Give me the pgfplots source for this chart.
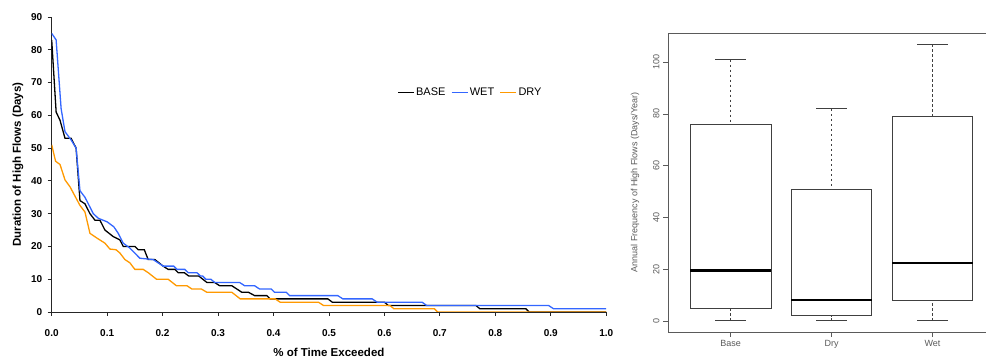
\documentclass[border=0pt]{standalone}
\usepackage{pgfplots}
\pgfplotsset{compat=1.18}
\usepgfplotslibrary{statistics}
\usepackage{fontspec}
\setmainfont{Liberation Sans}
\definecolor{wetblue}{RGB}{51,102,255}
\definecolor{dryorange}{RGB}{255,153,0}
\definecolor{rgray}{RGB}{90,90,90}
\begin{document}
\begin{tikzpicture}
\useasboundingbox (0pt,0pt) rectangle (986pt,361pt);
% ---------------- left: duration curves ----------------
\begin{axis}[
  at={(51.7pt,49pt)}, anchor=south west, scale only axis,
  width=554.5pt, height=295pt,
  xmin=0, xmax=1, ymin=0, ymax=90,
  axis lines*=left,
  axis line style={black!85, line width=0.9pt},
  xtick={0,0.1,0.2,0.3,0.4,0.5,0.6,0.7,0.8,0.9,1.0},
  ytick={0,10,20,30,40,50,60,70,80,90},
  /pgf/number format/assume math mode=true,
  tick label style={font=\bfseries\fontsize{10}{12}\selectfont, black},
  xticklabel style={yshift=-10pt, /pgf/number format/.cd, fixed, fixed zerofill, precision=1},
  yticklabel style={xshift=-2pt},
  tick align=outside, major tick length=4pt,
  tick style={black!85, line width=0.9pt},
  xlabel={\% of Time Exceeded},
  ylabel={Duration of High Flows (Days)},
  label style={font=\bfseries\fontsize{11.5}{13}\selectfont},
  xlabel style={at={(axis description cs:0.5,-0.137)}, anchor=center},
  ylabel style={at={(axis description cs:-0.061,0.5)}, anchor=center},
  legend columns=-1,
  legend style={draw=none, fill=none, at={(0.623,0.743)}, anchor=west,
    inner sep=0pt, font=\fontsize{11}{13}\selectfont,
    nodes={inner xsep=1.5pt},
    /tikz/every even column/.append style={column sep=4pt}},
  legend image code/.code={\draw[#1] (0pt,0pt) -- (16pt,0pt);},
]
\addplot[black, line width=1.3pt] coordinates {
(0,83) (0.008,61) (0.015,58.5) (0.024,53) (0.035,53) (0.044,50) (0.051,34) (0.06,33)
(0.069,30) (0.078,28) (0.087,28) (0.096,25) (0.111,23) (0.123,22) (0.129,20) (0.15,20)
(0.156,19) (0.167,19) (0.174,16) (0.186,16) (0.201,14) (0.21,13) (0.222,13) (0.228,12)
(0.239,12) (0.247,11) (0.265,11) (0.28,9) (0.294,9) (0.303,8) (0.325,8) (0.334,7)
(0.343,6) (0.355,6) (0.366,5) (0.388,5) (0.394,4) (0.498,4) (0.506,3) (0.6,3)
(0.607,2) (0.765,2) (0.772,1) (0.855,1) (0.861,0) (1,0)};
\addlegendentry{BASE}
\addplot[wetblue, line width=1.3pt] coordinates {
(0,85) (0.008,83) (0.017,62) (0.024,55) (0.035,52.5) (0.044,50) (0.051,37) (0.06,35)
(0.075,30) (0.084,28.6) (0.1,27.5) (0.112,26) (0.12,24) (0.129,21) (0.141,19.5) (0.159,16.4)
(0.183,16) (0.201,14) (0.22,14) (0.226,13) (0.24,13) (0.246,12) (0.262,12) (0.268,11)
(0.272,11) (0.278,10) (0.287,10) (0.294,9) (0.339,9) (0.348,8) (0.366,8) (0.375,7)
(0.396,7) (0.402,6) (0.423,6) (0.429,5) (0.516,5) (0.525,4) (0.578,4) (0.587,3)
(0.668,3) (0.676,2) (0.896,2) (0.905,1) (1,1)};
\addlegendentry{WET}
\addplot[dryorange, line width=1.3pt] coordinates {
(0,51) (0.007,46) (0.015,45) (0.024,40.3) (0.033,38.2) (0.051,32.5) (0.06,30.5) (0.069,24)
(0.082,22.5) (0.096,21) (0.105,19.2) (0.116,19) (0.123,18) (0.132,16) (0.141,15) (0.15,13)
(0.165,13) (0.174,12) (0.189,10) (0.21,10) (0.225,8) (0.244,8) (0.253,7) (0.27,7)
(0.28,6) (0.325,6) (0.34,4) (0.403,4) (0.412,3) (0.481,3) (0.49,2) (0.61,2)
(0.617,1) (0.69,1) (0.696,0) (1,0)};
\addlegendentry{DRY}
\end{axis}
% ---------------- right: boxplot ----------------
\begin{axis}[
  at={(668pt,29pt)}, anchor=south west, scale only axis,
  width=318pt, height=299pt,
  xmin=0.38, xmax=3.53, ymin=-4.28, ymax=111.28,
  axis x line*=box, axis y line*=left,
  axis line style={rgray, line width=0.9pt},
  xtick={1,2,3}, xticklabels={Base,Dry,Wet},
  ytick={0,20,40,60,80,100},
  xtick pos=bottom, ytick pos=left,
  tick align=outside, major tick length=5pt,
  tick style={rgray, line width=0.8pt},
  /pgf/number format/assume math mode=true,
  tick label style={font=\fontsize{9}{11}\selectfont, rgray},
  yticklabel style={rotate=90, anchor=south},
  ylabel={Annual Frequency of High Flows (Days/Year)},
  ylabel style={font=\fontsize{9}{11}\selectfont, rgray, at={(axis description cs:-0.104,0.5)}, anchor=center},
  boxplot/draw direction=y,
  boxplot/draw/lower whisker/.code={%
    \draw[/pgfplots/boxplot/every whisker/.try, dash pattern=on 2.5pt off 2.5pt]
      (boxplot box cs:\pgfplotsboxplotvalue{lower whisker},0.5) --
      (boxplot box cs:\pgfplotsboxplotvalue{lower quartile},0.5);
    \draw[/pgfplots/boxplot/every whisker/.try]
      (boxplot whisker cs:\pgfplotsboxplotvalue{lower whisker},0) --
      (boxplot whisker cs:\pgfplotsboxplotvalue{lower whisker},1);
  },
  boxplot/draw/upper whisker/.code={%
    \draw[/pgfplots/boxplot/every whisker/.try, dash pattern=on 2.5pt off 2.5pt]
      (boxplot box cs:\pgfplotsboxplotvalue{upper whisker},0.5) --
      (boxplot box cs:\pgfplotsboxplotvalue{upper quartile},0.5);
    \draw[/pgfplots/boxplot/every whisker/.try]
      (boxplot whisker cs:\pgfplotsboxplotvalue{upper whisker},0) --
      (boxplot whisker cs:\pgfplotsboxplotvalue{upper whisker},1);
  },
  boxplot/every median/.style={draw=black, line width=2.2pt},
]
\addplot[draw=black!75, line width=0.9pt, boxplot prepared={lower whisker=0, lower quartile=5, median=19.5,
  upper quartile=76, upper whisker=101, draw position=1, box extend=0.8, whisker extend=0.3}] coordinates {};
\addplot[draw=black!75, line width=0.9pt, boxplot prepared={lower whisker=0, lower quartile=2, median=8,
  upper quartile=51, upper whisker=82, draw position=2, box extend=0.8, whisker extend=0.3}] coordinates {};
\addplot[draw=black!75, line width=0.9pt, boxplot prepared={lower whisker=0, lower quartile=8, median=22.5,
  upper quartile=79, upper whisker=107, draw position=3, box extend=0.8, whisker extend=0.3}] coordinates {};
\end{axis}
\end{tikzpicture}
\end{document}
